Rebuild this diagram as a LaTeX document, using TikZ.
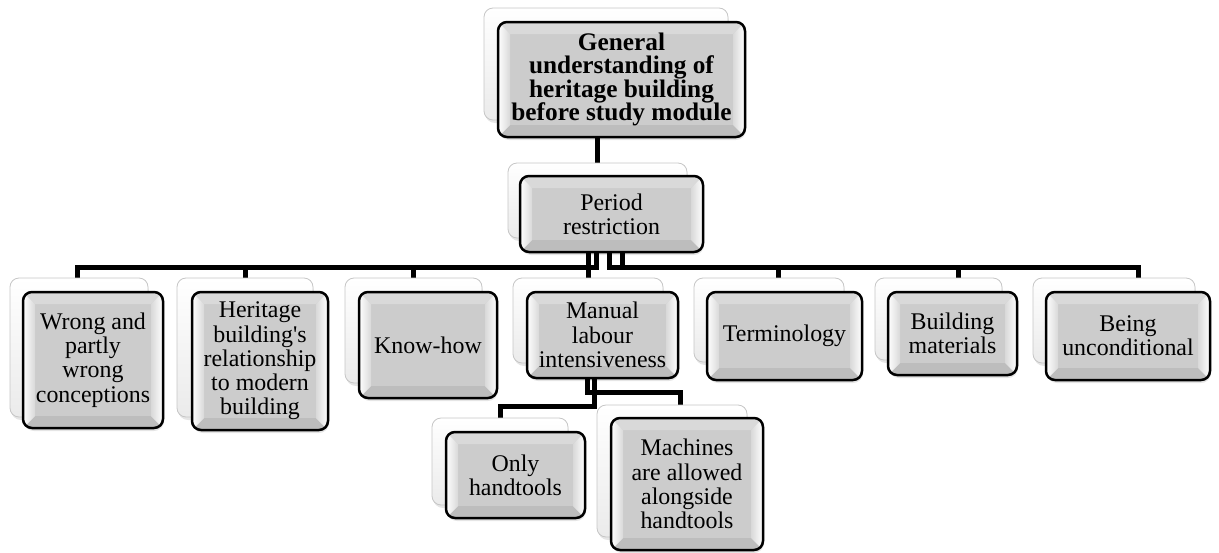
\documentclass[tikz,border=0pt]{standalone}
\usepackage{fontspec}
\setmainfont{Liberation Serif}[Ligatures=TeXOff]
\usetikzlibrary{calc,backgrounds}
\tikzset{
  conn/.style={line width=5pt, black},
  backbox/.style={rounded corners=9pt, draw=gray!45, line width=0.8pt, top color=white, bottom color=gray!16, inner sep=0pt},
  shbox/.style={rounded corners=10pt, fill=black, opacity=0.10, inner sep=0pt},
  frontbox/.style={rounded corners=9pt, draw=black, line width=2.5pt, fill=gray!40, inner sep=0pt, align=center,
    font={\fontsize{23.9}{24.2}\selectfont},
    path picture={
      \fill[sharp corners, gray!30] let \p1=(path picture bounding box.north west), \p2=(path picture bounding box.south east) in
        (\x1,\y1) -- (\x2,\y1) -- (\x2-12pt,\y1-12pt) -- (\x1+12pt,\y1-12pt) -- cycle;
      \fill[sharp corners, gray!52] let \p1=(path picture bounding box.north west), \p2=(path picture bounding box.south east) in
        (\x1,\y2) -- (\x2,\y2) -- (\x2-12pt,\y2+12pt) -- (\x1+12pt,\y2+12pt) -- cycle;
      \shade[sharp corners, left color=white, right color=gray!30] let \p1=(path picture bounding box.north west), \p2=(path picture bounding box.south east) in
        (\x1,\y1) -- (\x1+12pt,\y1-12pt) -- (\x1+12pt,\y2+12pt) -- (\x1,\y2) -- cycle;
      \shade[sharp corners, left color=gray!30, right color=white] let \p1=(path picture bounding box.north west), \p2=(path picture bounding box.south east) in
        (\x2,\y1) -- (\x2-12pt,\y1-12pt) -- (\x2-12pt,\y2+12pt) -- (\x2,\y2) -- cycle;
    }},
  titlefont/.style={font={\bfseries\fontsize{25.3}{23.4}\selectfont}},
}
% #1 name, #2 front centre, #3 front w, #4 front h, #5 back centre, #6 back w, #7 back h, #8 text, #9 extra style
\newcommand\SmArt[9]{%
  \node[shbox, minimum width=#6pt, minimum height=#7pt] (#1BS) at ([shift={(1pt,-3pt)}]#5) {};
  \node[backbox, minimum width=#6pt, minimum height=#7pt] (#1B) at (#5) {};
  \node[shbox, minimum width=#3pt, minimum height=#4pt] (#1S) at ([shift={(1pt,-3pt)}]#2) {};
  \node[frontbox, minimum width=#3pt, minimum height=#4pt, #9] (#1) at (#2) {#8};
}
\begin{document}
\begin{tikzpicture}[x=1pt,y=-1pt]
\useasboundingbox (0,0) rectangle (1219,552);
\SmArt{title}{621.5,79.5}{247}{115}{606,64}{244}{112}{General\\understanding of\\heritage building\\before study module}{titlefont}
\SmArt{period}{611.5,214}{183}{76}{597.5,200.5}{179}{75}{Period\\restriction}{}
\SmArt{wrong}{93,360}{140}{136}{79,347.5}{138}{139}{Wrong and\\partly\\wrong\\conceptions}{}
\SmArt{herit}{260,361}{136}{138}{245,347.5}{136}{139}{Heritage\\building's\\relationship\\to modern\\building}{}
\SmArt{know}{428,345}{138}{106}{413.5,330.5}{137}{105}{Know-how}{}
\SmArt{manual}{602.5,335}{151}{86}{588,320.5}{150}{85}{Manual\\labour\\intensiveness}{}
\SmArt{term}{784.5,336}{155}{88}{769,320}{150}{84}{Terminology}{}
\SmArt{build}{952.5,333.5}{129}{83}{938.5,319}{127}{82}{Building\\materials}{}
\SmArt{being}{1128,336}{164}{88}{1114,320.5}{162}{85}{Being\\unconditional}{}
\SmArt{only}{515.5,475}{139}{86}{500,461.5}{136}{87}{Only\\handtools}{}
\SmArt{mach}{687,484}{152}{132}{672,471}{150}{132}{Machines\\are allowed\\alongside\\handtools}{}
\begin{pgfonlayer}{background}
  \draw[conn] (periodB.north |- title.south) -- (periodB.north);
  \draw[conn] ([xshift=-15.5pt]period.south) |- ([xshift=-2pt,yshift=10pt]wrongB.north) -- ([xshift=-2pt]wrongB.north);
  \draw[conn] ([xshift=-15.5pt]period.south) |- ([yshift=10pt]heritB.north) -- (heritB.north);
  \draw[conn] ([xshift=-15.5pt]period.south) |- ([yshift=10pt]knowB.north) -- (knowB.north);
  \draw[conn] (manualB.north |- period.south) -- (manualB.north);
  \draw[conn] ([xshift=-2.5pt]period.south) |- ([xshift=9pt,yshift=10pt]termB.north) -- ([xshift=9pt]termB.north);
  \draw[conn] ([xshift=10.5pt]period.south) |- ([xshift=19.5pt,yshift=10pt]buildB.north) -- ([xshift=19.5pt]buildB.north);
  \draw[conn] ([xshift=10.5pt]period.south) |- ([xshift=24pt,yshift=10pt]beingB.north) -- ([xshift=24pt]beingB.north);
  \draw[conn] ([xshift=-1pt]manualB.south) |- ([xshift=8pt,yshift=12pt]machB.north) -- ([xshift=8pt]machB.north);
  \draw[conn] ([xshift=6pt]manualB.south) |- ([yshift=11pt]onlyB.north) -- (onlyB.north);
\end{pgfonlayer}
\end{tikzpicture}
\end{document}
